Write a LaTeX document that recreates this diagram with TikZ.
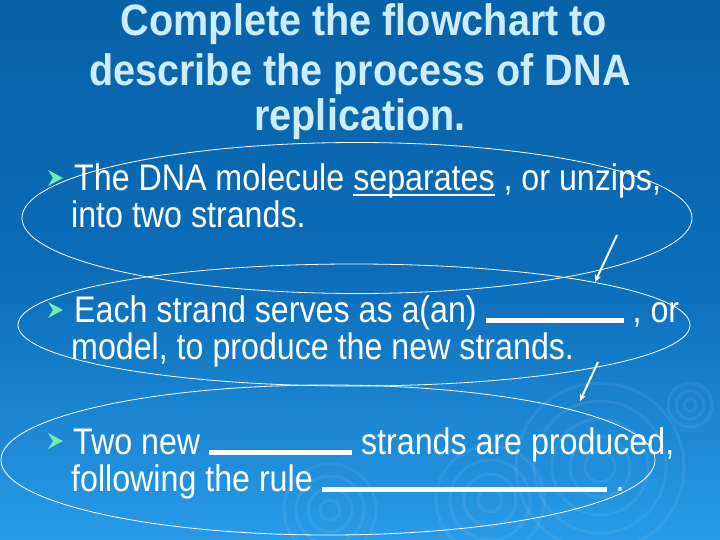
\documentclass[tikz,border=0pt]{standalone}
\usepackage{fontspec}
\setmainfont{Liberation Sans}
\newfontfamily\bodyfont[FakeStretch=0.87]{Liberation Sans}
\newfontfamily\headfont[FakeStretch=0.9]{Liberation Sans}
\usetikzlibrary{shapes.geometric,arrows.meta}
\definecolor{bgtop}{RGB}{8,98,168}
\definecolor{bgmid}{RGB}{12,108,184}
\definecolor{bgbot}{RGB}{40,155,232}
\definecolor{titlecol}{RGB}{204,236,255}
\definecolor{bulletcol}{RGB}{110,240,170}
\tikzset{
  oval/.style={draw=white, line width=0.8pt, ellipse, inner sep=0pt},
  body/.style={text=white, font=\bodyfont\fontsize{37}{37}\selectfont, anchor=base west, inner sep=0pt},
  titletext/.style={text=titlecol, font=\headfont\fontsize{44}{44}\selectfont\bfseries, anchor=base, inner sep=0pt},
  flow/.style={draw=white, line width=2pt, -{Stealth[length=7pt,width=6pt]}},
  ripple/.style={draw=white, opacity=0.07, line width=3pt},
  bulletmark/.style={fill=bulletcol, draw=none}
}
\newcommand{\blank}[1]{\rule[-1pt]{#1pt}{5pt}}
\newcommand{\uword}[1]{\setbox0\hbox{#1}\rlap{\rule[-5pt]{\wd0}{2.4pt}}\box0\relax}
\begin{document}
\begin{tikzpicture}[x=1pt,y=-1pt]
\useasboundingbox (0,0) rectangle (720,540);
\shade[top color=bgtop, bottom color=bgbot, middle color=bgmid] (0,0) rectangle (720,540);
% faint ripples
\foreach \r in {15,30,48,66,84} {\draw[ripple] (600,467) circle (\r);}
\foreach \r in {12,26,40,54} {\draw[ripple] (490,500) circle (\r);}
\foreach \r in {10,22,34,46} {\draw[ripple] (330,510) circle (\r);}
\foreach \r in {6,14,22} {\draw[ripple] (690,405) circle (\r);}
% title
\node[titletext] (t1) at (364,36) {Complete the flowchart to};
\node[titletext] (t2) at (360,86) {describe the process of DNA};
\node[titletext] (t3) at (360,131) {replication.};
% ovals
\node[oval, minimum width=670pt, minimum height=151pt] (o1) at (357,218) {};
\node[oval, minimum width=672pt, minimum height=122pt] (o2) at (354,325) {};
\node[oval, minimum width=654pt, minimum height=150pt] (o3) at (328,460) {};
% bullets
\foreach \by in {178,310,441} {
  \fill[bulletmark] (48,\by-8) -- (63,\by) -- (48,\by+8) -- (53,\by) -- cycle;
}
% text block 1
\node[body] (b1a) at (74,191) {The DNA molecule \uword{separates} , or unzips,};
\node[body] (b1b) at (71,228) {into two strands.};
% text block 2
\node[body] (b2a) at (74,322) {Each strand serves as a(an) \blank{138} , or};
\node[body] (b2b) at (71,359) {model, to produce the new strands.};
% text block 3
\node[body] (b3a) at (73,454) {Two new \blank{143} strands are produced,};
\node[body] (b3b) at (71,491) {following the rule \blank{285} .};
% connectors
\coordinate (c1s) at (617,235);
\coordinate (c1e) at (595,282);
\coordinate (c2s) at (598,362);
\coordinate (c2e) at (580,401);
\draw[flow] (c1s) -- (c1e);
\draw[flow] (c2s) -- (c2e);
\end{tikzpicture}
\end{document}
